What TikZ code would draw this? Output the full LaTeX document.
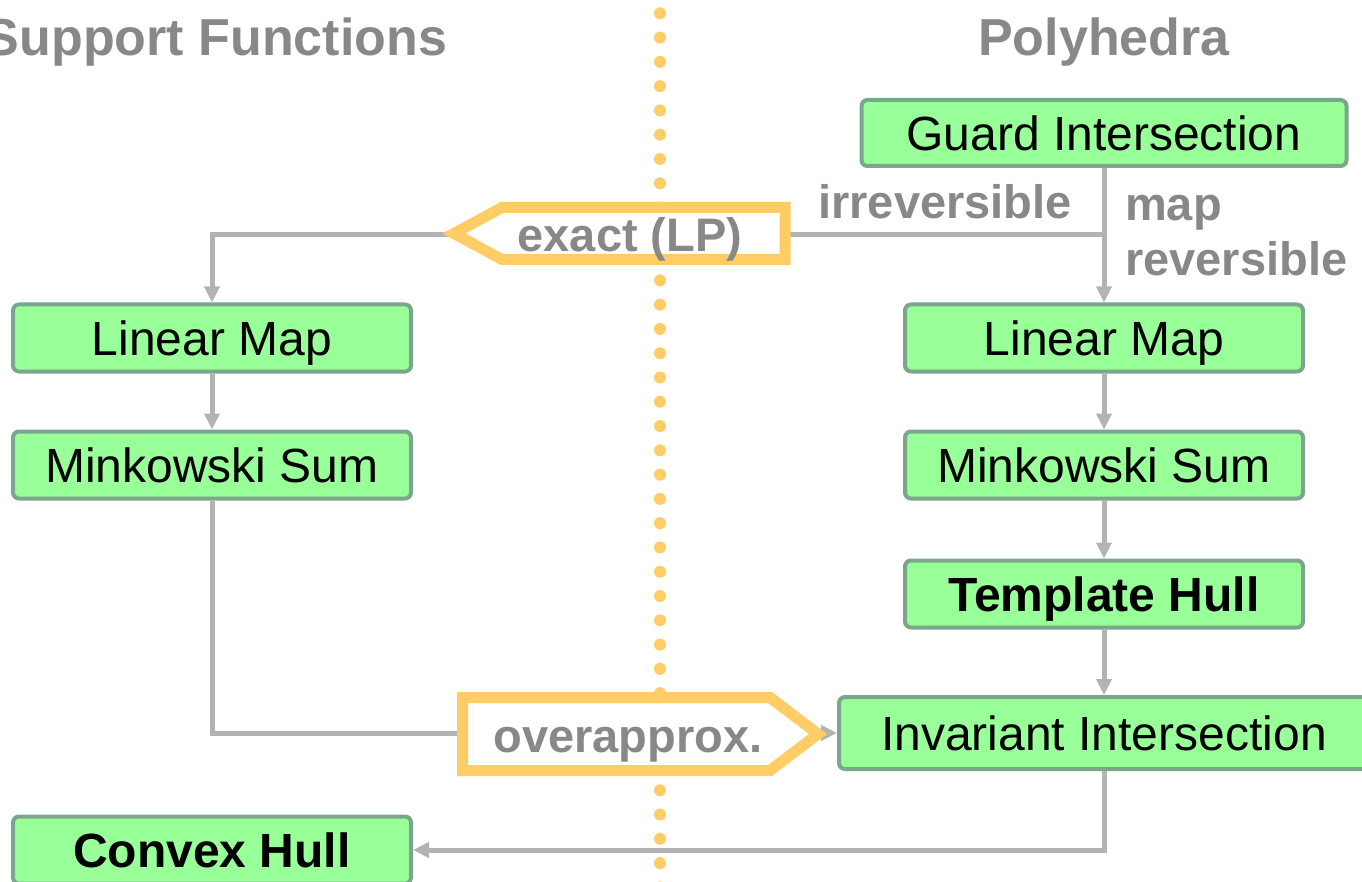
\documentclass[tikz,border=0pt]{standalone}
\usepackage{fontspec}
\setmainfont{Liberation Sans}
\usetikzlibrary{arrows.meta}
\definecolor{boxfill}{RGB}{153,255,153}
\definecolor{boxline}{RGB}{122,166,140}
\definecolor{conngray}{RGB}{179,179,179}
\definecolor{lblgray}{RGB}{136,136,136}
\definecolor{orng}{RGB}{255,204,102}
\begin{document}
\begin{tikzpicture}[x=1pt,y=-1pt,
  opbox/.style={draw=boxline, line width=4pt, fill=boxfill, rounded corners=6pt,
    minimum width=398pt, minimum height=67pt, inner sep=0pt,
    text height=34.5pt, text depth=0pt,
    font=\fontsize{48}{56}\selectfont},
  boldtext/.style={font=\fontsize{48}{56}\selectfont\bfseries},
  flow/.style={draw=conngray, line width=5pt, -{Triangle[length=16pt,width=15pt]}},
  lbl/.style={text=lblgray, font=\fontsize{47}{54}\selectfont\bfseries, inner sep=0pt},
  ttl/.style={text=lblgray, font=\fontsize{52}{60}\selectfont\bfseries, inner sep=0pt},
  tag/.style={draw=orng, line width=11pt, fill=white, line join=miter},
  dots/.style={draw=orng, line width=12pt, line cap=round, dash pattern=on 0pt off 24.28pt}
]
\clip (0,0) rectangle (1362,882);
\useasboundingbox (0,0) rectangle (1362,882);

% dotted divider
\coordinate (dtop) at (660,13.3);
\coordinate (dbot) at (660,900);
\draw[dots] (dtop) -- (dbot);

% titles
\node[ttl, anchor=base] (tsf) at (216,56) {Support Functions};
\node[ttl, anchor=base] (tpo) at (1104,56) {Polyhedra};

% boxes
\node[opbox, minimum width=485pt, minimum height=66pt] (guard) at (1104,133) {Guard Intersection};
\node[opbox] (rlm) at (1104,338) {Linear Map};
\node[opbox] (rms) at (1104,465) {Minkowski Sum};
\node[opbox, boldtext] (th) at (1104,594) {Template Hull};
\node[opbox, minimum width=530pt, minimum height=72pt] (inv) at (1104,733) {Invariant Intersection};
\node[opbox] (llm) at (212,338) {Linear Map};
\node[opbox] (lms) at (212,465) {Minkowski Sum};
\node[opbox, boldtext] (ch) at (212,850) {Convex Hull};

% connectors
\coordinate (jn) at (1104,235);
\draw[flow] (guard.south) -- (rlm.north);
\draw[flow] (jn) -| (llm.north);
\draw[flow] (llm.south) -- (lms.north);
\draw[flow] (rlm.south) -- (rms.north);
\draw[flow] (rms.south) -- (th.north);
\draw[flow] (th.south) -- (inv.north);
\draw[flow] (lms.south) |- (inv.west);
\draw[flow] (inv.south) |- (ch.east);

% tags on edges
\draw[tag] (454,233.5) -- (502,207.5) -- (785,207.5) -- (785,259.5) -- (502,259.5) -- cycle;
\node[lbl, anchor=base] (exact) at (630,252) {exact (LP)};
\draw[tag] (462.5,697.5) -- (770,697.5) -- (818,734) -- (770,770.5) -- (462.5,770.5) -- cycle;
\node[lbl, anchor=base] (over) at (628,752) {overapprox.};

% edge labels
\node[lbl, anchor=base] (irr) at (945,219) {irreversible};
\node[lbl, anchor=base west] (map) at (1125,221) {map};
\node[lbl, anchor=base west] (rev) at (1125,276) {reversible};
\end{tikzpicture}
\end{document}
